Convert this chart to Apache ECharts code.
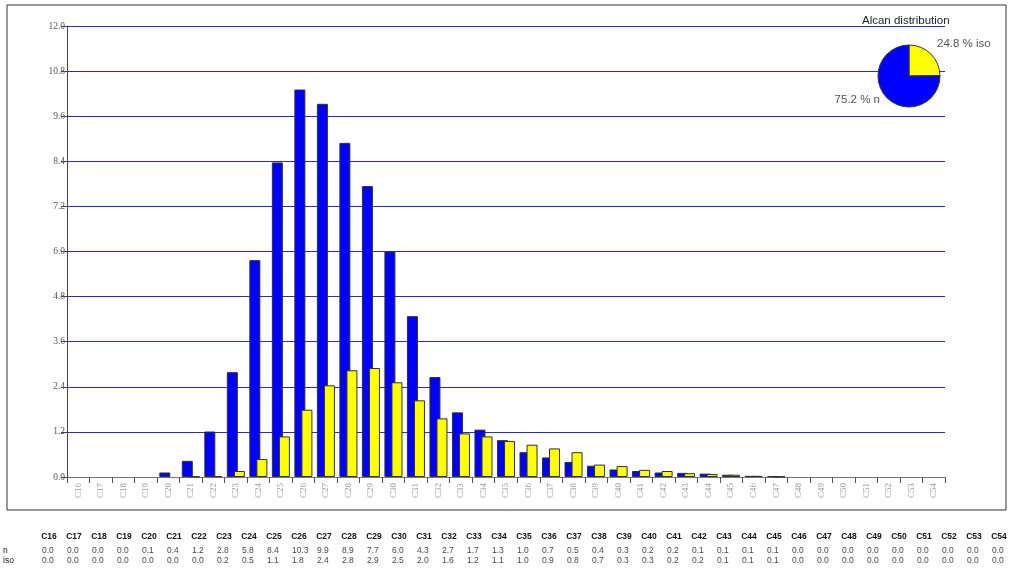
<!DOCTYPE html>
<html>
<head>
<meta charset="utf-8">
<script src="https://cdn.jsdelivr.net/npm/echarts@6/dist/echarts.min.js"></script>
<style>html,body{margin:0;padding:0;background:#fff;}#c{width:1012px;height:574px;}</style>
</head>
<body>
<div id="c"></div>
<script>
const categories = ['C16','C17','C18','C19','C20','C21','C22','C23','C24','C25','C26','C27','C28','C29','C30','C31','C32','C33','C34','C35','C36','C37','C38','C39','C40','C41','C42','C43','C44','C45','C46','C47','C48','C49','C50','C51','C52','C53','C54'];
const nValues = [0,0,0,0,0.12,0.43,1.21,2.79,5.77,8.37,10.31,9.93,8.89,7.74,6.0,4.28,2.66,1.72,1.26,0.98,0.66,0.52,0.4,0.3,0.2,0.16,0.12,0.11,0.09,0.06,0.03,0.02,0,0,0,0,0,0,0];
const isoValues = [0,0,0,0,0,0.01,0.02,0.16,0.48,1.08,1.79,2.44,2.84,2.9,2.52,2.04,1.56,1.16,1.08,0.96,0.86,0.76,0.66,0.33,0.29,0.19,0.16,0.1,0.08,0.06,0.03,0.01,0,0,0,0,0,0,0];
const pieNames = ['iso','n'];
const pieValues = [24.8, 75.2];
const rowLabels = ['n','iso'];
const chartTitle = 'Alcan distribution';

const BLUE = '#0000ff', YELLOW = '#ffff00';
const serif = 'Liberation Serif, Times New Roman, serif';
const sans = 'Liberation Sans, Arial, sans-serif';

const barData = arr => arr.map(v => v === 0 ? null : v);
const tableN = categories.map((c,i)=>[i,0,nValues[i]]);
const tableIso = categories.map((c,i)=>[i,1,isoValues[i]]);
const tableLabel = {show:true,position:[-6.5,0.5],align:'left',verticalAlign:'middle',formatter:p=>p.value[2].toFixed(1),fontFamily:sans,fontSize:8.5,color:'#111'};

const chart = echarts.init(document.getElementById('c'), null, {renderer:'canvas'});
chart.setOption({
  animation:false,
  backgroundColor:'#fff',
  title:{text:chartTitle,left:862,top:15,padding:0,textStyle:{fontFamily:sans,fontSize:11.5,fontWeight:'normal',color:'#222'}},
  graphic:[{type:'rect',shape:{x:7,y:5,width:999,height:505},style:{fill:'none',stroke:'#333',lineWidth:1},silent:true,z:-1}],
  grid:[
    {left:67,right:67,top:26,bottom:97},
    {left:36.5,right:0.5,top:545.5,height:20}
  ],
  xAxis:[
    {type:'category',gridIndex:0,data:categories,
     axisLine:{lineStyle:{color:'#777',width:1}},
     axisTick:{show:true,length:6,lineStyle:{color:'#555'}},
     axisLabel:{rotate:90,margin:6,interval:0,fontFamily:serif,fontSize:9,color:'#999'},
     splitLine:{show:false}},
    {type:'category',gridIndex:1,data:categories,position:'top',
     axisLine:{show:false},axisTick:{show:false},
     axisLabel:{margin:4,interval:0,fontFamily:sans,fontSize:8.5,fontWeight:'bold',color:'#111'},
     splitLine:{show:false}}
  ],
  yAxis:[
    {type:'value',gridIndex:0,min:0,max:12,interval:1.2,
     axisLine:{show:true,lineStyle:{color:'#444'}},
     axisTick:{show:true,length:6,lineStyle:{color:'#444'}},
     axisLabel:{margin:2,fontFamily:serif,fontSize:9.5,color:'#555',formatter:v=>v.toFixed(1)},
     splitLine:{show:true,lineStyle:{color:'#2a2ad4',width:1}}},
    {type:'category',gridIndex:1,data:rowLabels,inverse:true,
     axisLine:{show:false},axisTick:{show:false},splitLine:{show:false},
     axisLabel:{align:'left',margin:33.5,interval:0,fontFamily:sans,fontSize:8.5,color:'#111'}}
  ],
  series:[
    {type:'bar',name:'n',xAxisIndex:0,yAxisIndex:0,data:barData(nValues),barWidth:11,barGap:'-36%',
     itemStyle:{color:BLUE,borderColor:'#303030',borderWidth:1}},
    {type:'bar',name:'iso',xAxisIndex:0,yAxisIndex:0,data:barData(isoValues),barWidth:11,barGap:'-36%',
     itemStyle:{color:YELLOW,borderColor:'#303030',borderWidth:1}},
    {type:'pie',center:[909,76],radius:31,startAngle:90,clockwise:true,
     data:pieNames.map((nm,i)=>({name:nm,value:pieValues[i],itemStyle:{color:nm==='iso'?YELLOW:BLUE}})),
     itemStyle:{borderColor:'#333',borderWidth:1},
     label:{show:true,overflow:'none',formatter:p=>p.value.toFixed(1)+' % '+p.name,fontFamily:sans,fontSize:11.5,color:'#555'},
     labelLine:{show:false},
     labelLayout:p=>p.dataIndex===0?{x:937,y:44,align:'left',verticalAlign:'middle',hideOverlap:false}:{x:880,y:100,align:'right',verticalAlign:'middle',hideOverlap:false}},
    {type:'scatter',xAxisIndex:1,yAxisIndex:1,data:tableN,symbolSize:1,itemStyle:{color:'rgba(0,0,0,0)'},label:tableLabel,labelLayout:{hideOverlap:false}},
    {type:'scatter',xAxisIndex:1,yAxisIndex:1,data:tableIso,symbolSize:1,itemStyle:{color:'rgba(0,0,0,0)'},label:tableLabel,labelLayout:{hideOverlap:false}}
  ]
});
</script>
</body>
</html>
